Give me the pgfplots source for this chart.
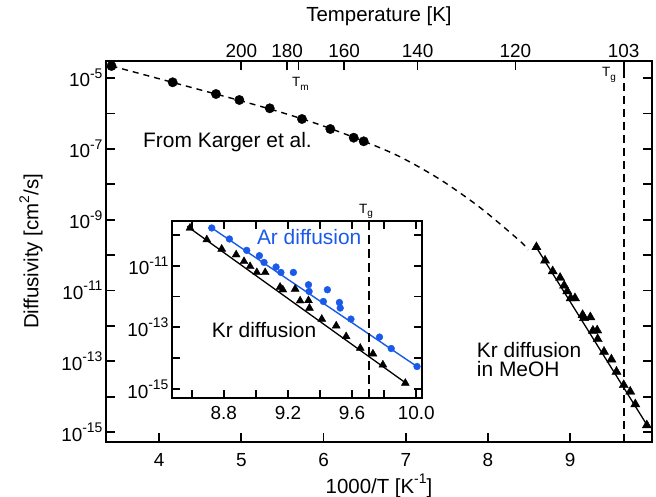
\documentclass[border=0pt]{standalone}
\usepackage{fontspec}
\setmainfont{Liberation Sans}
\usepackage{pgfplots}
\pgfplotsset{compat=1.18}
\definecolor{arblue}{RGB}{25,90,235}
\newcommand{\sps}[1]{\raisebox{0.45em}{\fontsize{14}{14}\selectfont #1}}
\newcommand{\pw}[1]{10\sps{#1}}
\newcommand{\sbs}[1]{\raisebox{-0.25em}{\fontsize{10}{10}\selectfont #1}}
\pgfplotsset{
  tick label style={font=\fontsize{19}{22}\selectfont},
  label style={font=\fontsize{20.5}{24}\selectfont},
}
\begin{document}
\begin{tikzpicture}
\useasboundingbox (0,0) rectangle (656bp,497bp);
% ---------------- main axis ----------------
\begin{axis}[
  at={(106bp,55bp)}, anchor=south west,
  scale only axis, width=546bp, height=381bp,
  xmin=3.353, xmax=9.995,
  ymode=log, ymin=5.248e-16, ymax=3.020e-5,
  axis line style={line width=2bp},
  tick align=inside, major tick length=9bp,
  every tick/.style={black, line width=1.8bp},
  xtick pos=bottom,
  xtick={4,5,6,7,8,9}, xticklabels={4,5,6,7,8,9},
  ytick={1e-15,1e-14,1e-13,1e-12,1e-11,1e-10,1e-9,1e-8,1e-7,1e-6,1e-5},
  yticklabels={\pw{-15},,\pw{-13},,\pw{-11},,\pw{-9},,\pw{-7},,\pw{-5}},
  yminorticks=false,
  xticklabel style={yshift=-8bp},
  xlabel={1000/T [K\sps{-1}]},
  xlabel style={at={(axis description cs:0.5,-0.1339)}, anchor=base},
  ylabel={Diffusivity [cm\sps{2}/s]},
  ylabel style={at={(axis description cs:-0.1374,0.5)}, anchor=center},
]
\addplot[black, line width=1.4bp, dash pattern=on 6bp off 5bp, smooth] coordinates {
(3.42,2.183e-5) (3.888,1.117e-5) (4.497,4.645e-6) (4.983,2.301e-6) (5.470,1.096e-6)
(5.956,4.764e-7) (6.492,1.629e-7) (6.930,5.943e-8) (7.416,1.368e-8) (7.903,2.198e-9)
(8.390,2.472e-10) (8.487,1.384e-10)};
\addplot[black, line width=1.3bp] coordinates {(8.572,1.888e-10) (9.942,1.479e-15)};
\addplot[only marks, mark=*, mark size=4.7bp, black] coordinates {
(3.42,2.183e-5) (4.164,7.568e-6) (4.691,3.532e-6) (4.975,2.393e-6) (5.345,1.393e-6)
(5.737,6.950e-7) (6.082,3.622e-7) (6.366,2.061e-7) (6.488,1.629e-7)};
\addplot[only marks, mark=triangle*, mark size=5.3bp, black] coordinates {
(8.589,1.675e-10) (8.694,6.982e-11) (8.787,3.483e-11) (8.877,2.275e-11) (8.926,1.380e-11)
(8.964,9.484e-12) (9.006,6.053e-12) (9.058,6.053e-12) (9.151,2.032e-12) (9.168,1.663e-12)
(9.245,1.754e-12) (9.276,7.311e-13) (9.328,7.464e-13) (9.334,4.236e-13) (9.411,1.858e-13)
(9.501,1.127e-13) (9.563,5.070e-14) (9.651,2.128e-14) (9.730,1.390e-14) (9.792,6.109e-15)
(9.932,1.556e-15)};
\addplot[black, line width=2bp, dash pattern=on 8bp off 5bp] coordinates {(9.65,5.248e-16) (9.65,3.020e-5)};
\node[anchor=base west, inner sep=0, font=\fontsize{21}{24}\selectfont] at (axis cs:3.803,1.125e-7) {From Karger et al.};
\node[anchor=base west, inner sep=0, font=\fontsize{21}{24}\selectfont] at (axis cs:7.863,1.318e-13) {Kr diffusion};
\node[anchor=base west, inner sep=0, font=\fontsize{21}{24}\selectfont] at (axis cs:7.863,3.80e-14) {in MeOH};
\node[anchor=base west, inner sep=0, font=\fontsize{13.5}{15}\selectfont] at (axis cs:5.616,5.57e-6) {T\sbs{m}};
\node[anchor=base west, inner sep=0, font=\fontsize{13.5}{15}\selectfont] at (axis cs:9.387,1.072e-5) {T\sbs{g}};
\node[anchor=base west, inner sep=0, font=\fontsize{13.5}{15}\selectfont] at (axis cs:6.431,1.535e-9) {T\sbs{g}};
\end{axis}
% ---------------- top temperature axis ----------------
\begin{axis}[
  at={(106bp,55bp)}, anchor=south west,
  scale only axis, width=546bp, height=381bp,
  xmin=3.353, xmax=9.995, ymin=0, ymax=1,
  axis line style={line width=2bp},
  tick align=inside, major tick length=9bp,
  every tick/.style={black, line width=1.8bp},
  xtick pos=top, xticklabel pos=top, ytick=\empty,
  xtick={5,5.5556,5.695,6.25,7.1429,8.3333,9.65},
  xticklabels={200,180,,160,140,120,103},
  xlabel={Temperature [K]},
  xlabel style={at={(axis description cs:0.5,1.1024)}, anchor=base},
]
\end{axis}
% ---------------- inset ----------------
\begin{axis}[
  at={(172bp,99bp)}, anchor=south west,
  scale only axis, width=250bp, height=177bp,
  xmin=8.477, xmax=10.036,
  ymode=log, ymin=5.129e-16, ymax=2.818e-10,
  axis background/.style={fill=white},
  axis line style={line width=2bp},
  tick align=inside, major tick length=8bp,
  every tick/.style={black, line width=1.8bp},
  xtick={8.6,8.8,9.0,9.2,9.4,9.6,9.8,10.0},
  xticklabels={,8.8,,9.2,,9.6,,10.0},
  ytick={1e-15,1e-14,1e-13,1e-12,1e-11,1e-10},
  yticklabels={\pw{-15},,\pw{-13},,\pw{-11},},
  yminorticks=false,
  xticklabel style={yshift=-5bp},
]
\addplot[black, line width=1.3bp] coordinates {(8.572,1.888e-10) (9.942,1.479e-15)};
\addplot[arblue, line width=1.4bp] coordinates {(8.725,1.675e-10) (10.005,5.37e-15)};
\addplot[only marks, mark=triangle*, mark size=4.6bp, black] coordinates {
(8.589,1.675e-10) (8.694,6.982e-11) (8.787,3.483e-11) (8.877,2.275e-11) (8.926,1.380e-11)
(8.964,9.484e-12) (9.006,6.053e-12) (9.058,6.053e-12) (9.151,2.032e-12) (9.168,1.663e-12)
(9.245,1.754e-12) (9.276,7.311e-13) (9.328,7.464e-13) (9.334,4.236e-13) (9.411,1.858e-13)
(9.501,1.127e-13) (9.563,5.070e-14) (9.651,2.128e-14) (9.730,1.390e-14) (9.792,6.109e-15)
(9.932,1.556e-15)};
\addplot[only marks, mark=*, mark size=3.4bp, arblue] coordinates {
(8.725,1.675e-10) (8.835,7.362e-11) (8.943,3.141e-11) (9.022,2.113e-11) (9.051,1.279e-11)
(9.126,9.078e-12) (9.156,6.053e-12) (9.234,6.053e-12) (9.328,2.415e-12) (9.332,1.466e-12)
(9.446,1.663e-12) (9.421,6.934e-13) (9.521,6.427e-13) (9.526,4.236e-13) (9.593,1.858e-13)
(9.771,4.842e-14) (9.844,2.065e-14) (10.005,5.383e-15)};
\addplot[black, line width=2bp, dash pattern=on 9bp off 5bp] coordinates {(9.704,5.129e-16) (9.704,2.818e-10)};
\node[anchor=base west, inner sep=0, text=arblue, font=\fontsize{21}{24}\selectfont] at (axis cs:9.006,4.81e-11) {Ar diffusion};
\node[anchor=base west, inner sep=0, font=\fontsize{21}{24}\selectfont] at (axis cs:8.725,4.59e-14) {Kr diffusion};
\end{axis}
\end{tikzpicture}
\end{document}
